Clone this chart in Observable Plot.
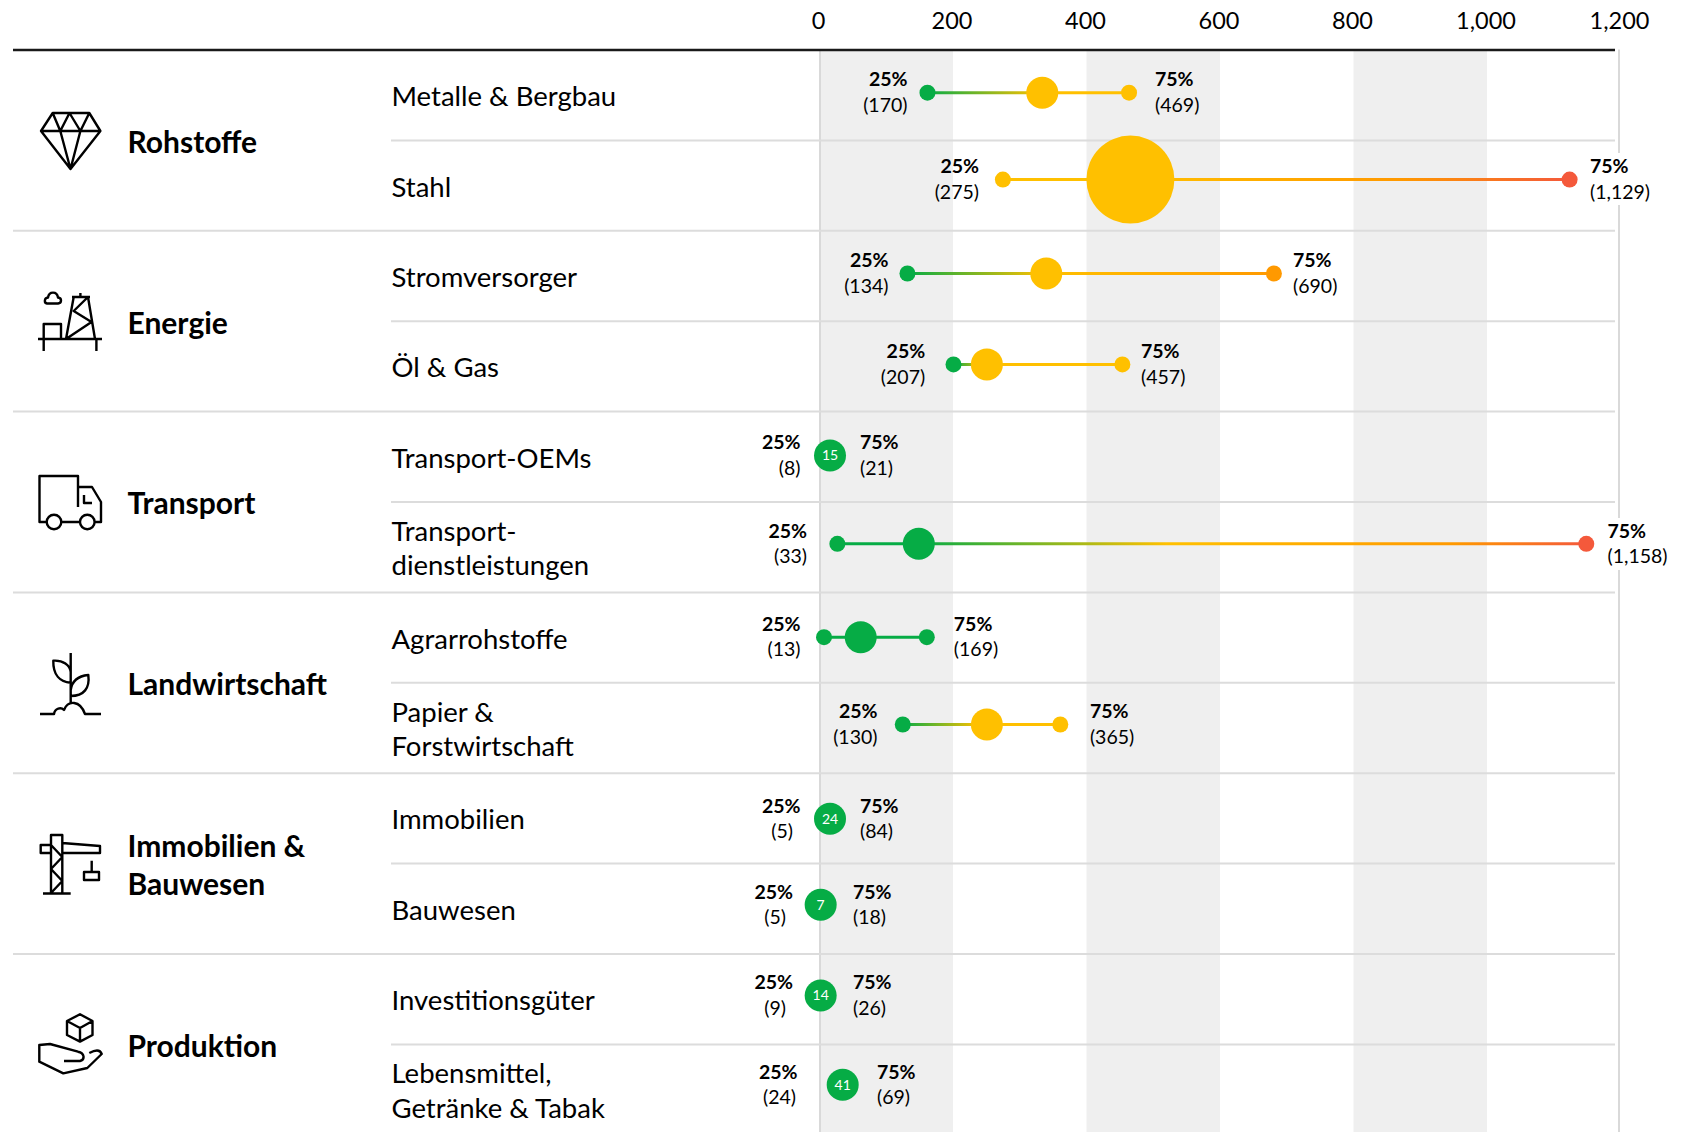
<!DOCTYPE html>
<html>
<head>
<meta charset="utf-8">
<script src="https://cdn.jsdelivr.net/npm/d3@7"></script>
<script src="https://cdn.jsdelivr.net/npm/@observablehq/plot@0.6"></script>
<style>
html,body{margin:0;padding:0;background:#fff}
svg{display:block}
</style>
</head>
<body>
<div id="chart"></div>
<script>
// ---- data ----
const groups = ["Rohstoffe", "Energie", "Transport", "Landwirtschaft", "Immobilien &\nBauwesen", "Produktion"];
const sectors = ["Metalle & Bergbau", "Stahl", "Stromversorger", "Öl & Gas", "Transport-OEMs",
  "Transport-\ndienstleistungen", "Agrarrohstoffe", "Papier &\nForstwirtschaft", "Immobilien", "Bauwesen",
  "Investitionsgüter", "Lebensmittel,\nGetränke & Tabak"];
const q25Text = ["170", "275", "134", "207", "8", "33", "13", "130", "5", "5", "9", "24"];
const q75Text = ["469", "1,129", "690", "457", "21", "1,158", "169", "365", "84", "18", "26", "69"];
const medianText = [null, null, null, null, "15", null, null, null, "24", "7", "14", "41"];
// values as plotted on the axis
const lowValue = [161, 274, 131, 200, null, 26, 6, 124, null, null, null, null];
const midValue = [333, 465, 339, 250, 15, 148, 61, 250, 15, 1, 1, 34];
const highValue = [463, 1123, 680, 453, null, 1148, 160, 360, null, null, null, null];
const axisTicks = [0, 200, 400, 600, 800, 1000, 1200];
const bands = [[0, 200], [400, 600], [800, 1000]];
const green = "#06AC45", yellow = "#FFC000", orange = "#FF9900", red = "#F4593B";
const lowColor = [green, yellow, green, green, null, green, green, green, null, null, null, null];
const highColor = [yellow, red, orange, yellow, null, red, green, yellow, null, null, null, null];
const midColor = [yellow, yellow, yellow, yellow, green, green, green, yellow, green, green, green, green];
const lineStops = [
  [[161, green], [333, yellow], [463, yellow]],
  [[274, yellow], [465, yellow], [870, orange], [1123, red]],
  [[131, green], [339, yellow], [680, orange]],
  [[200, green], [250, yellow], [453, yellow]],
  null,
  [[26, green], [148, green], [520, yellow], [950, orange], [1148, red]],
  [[6, green], [160, green]],
  [[124, green], [240, yellow], [360, yellow]],
  null, null, null, null
];

// ---- layout ----
const W = 1688, H = 1132, TOP = 49.5, ROW = 90.4, X0 = 819.5, X1200 = 1620.5;
const pxPerUnit = (X1200 - X0) / 1200;
const toValue = px => (px - X0) / pxPerUnit;
const toRow = px => (px - TOP) / ROW;
const rowNudge = [-2.5, -6, -2.5, -2, -1.3, -3.4, -0.4, -3.5, 0.4, -4, -3.7, -4.8];
const labelLeftPx = [907, 978.5, 888, 924.7, 800, 806.5, 800, 877, 800, 792.5, 792.5, 797];
const parenShift = [0, 0, 0, 0, 0, 0, 0, 0, -7.5, -7, -7, -1.5];
const labelRightPx = [1154.5, 1589.5, 1292.5, 1140.5, 859.5, 1607, 953.3, 1089.4, 859.5, 852.5, 852.5, 876.5];
const font = "Lato";

const rows = sectors.map((name, i) => ({
  i, name, q25: `(${q25Text[i]})`, q75: `(${q75Text[i]})`, median: medianText[i],
  low: lowValue[i], mid: midValue[i], high: highValue[i],
  lowC: lowColor[i], midC: midColor[i], highC: highColor[i],
  yText: i + 0.5,
  yDot: i + 0.5 + rowNudge[i] / ROW,
  leftEdge: toValue(labelLeftPx[i]),
  parenEdge: toValue(labelLeftPx[i] + parenShift[i]),
  rightEdge: toValue(labelRightPx[i]),
  big: midValue[i] === 465
}));
const withRange = rows.filter(d => d.low !== null);
const groupRows = groups.map((name, i) => ({name, y: 2 * i + 1}));
const axisBreaks = [[153, 205], [518, 570]];

const gradientDefs = (index, {x}) => {
  const defs = d3.create("svg:defs");
  lineStops.forEach((stops, i) => {
    if (!stops) return;
    const a = stops[0][0], b = stops[stops.length - 1][0];
    const g = defs.append("linearGradient").attr("id", `grad${i}`)
      .attr("gradientUnits", "userSpaceOnUse")
      .attr("x1", x(a)).attr("x2", x(b)).attr("y1", 0).attr("y2", 0);
    stops.forEach(([v, c]) => g.append("stop").attr("offset", (v - a) / (b - a)).attr("stop-color", c));
  });
  return defs.node();
};

const iconPaths = [
  // diamond
  "M52.7,113H89.3L100.4,131L70.5,169L41,131Z M41,131H100.4 M52.7,113L60.3,131L70.5,169L80.4,131L89.3,113 M60.3,131L69.5,113L80.4,131",
  // oil rig
  "M38,339H102 M43.7,339V351 M96.4,339V351 M43.7,339V324H61V339 M66,339L73.7,297H88L95,339 M72,297H90 M80.4,293V297 M88,297L73.7,311L91.5,322L66,339 M47,303.5H58C62,303 62,298 58,297.5C57,291 49,291 48,297.5C44,298 44,303 47,303.5Z",
  // truck
  "M46.5,522H39.5V476H78V507 M78,487H92L101,502V522H94.7 M61.3,522H80 M84,495V503H92 M61.3,522A7.3,7.3 0 1 1 46.7,522A7.3,7.3 0 1 1 61.3,522Z M94.6,522A7.3,7.3 0 1 1 80,522A7.3,7.3 0 1 1 94.6,522Z",
  // plant
  "M70.7,653V703 M70.7,682.7C60,682 53,675 53.3,660.7C63,660 70,665 70.7,672 M70.7,696C84,696 90,688 88.3,675C78,676 72,681 70.7,690 M40,714H54C55,708 61,707 64,710C68,700 80,700 85,714H101",
  // crane
  "M51,893V835H62.3V893 M43,893.5H70.7 M51,845H40.7V853H51 M62.3,843L100,846V853H62.3 M51,845L62.3,857L51,869L62.3,881L51,893 M91.7,860.7V872 M84,872H99V880H84Z",
  // box on a hand
  "M80,1014.3L92.5,1021V1035L80,1041.6L67,1035V1021Z M67,1021L80,1028L92.5,1021 M80,1028V1041.6 M64,1061H80C85,1060 85,1053 78,1051.7L50,1044L39.3,1045V1061.7L63.3,1073.3L87.3,1068L101.7,1054C100,1049 95,1050 89.3,1053"
];
const icons = () => {
  const g = d3.create("svg:g").attr("fill", "none").attr("stroke", "#000")
    .attr("stroke-width", 2.4).attr("stroke-linejoin", "round");
  iconPaths.forEach(d => g.append("path").attr("d", d));
  return g.node();
};

const valueLabel = {fontFamily: font, fontSize: 19.5, fill: "#000"};
const chart = Plot.plot({
  width: W, height: H,
  marginTop: TOP, marginBottom: 0, marginLeft: 13, marginRight: W - 1615,
  style: {fontFamily: font, background: "#fff", color: "#000"},
  x: {domain: [0, 1200], range: [X0, X1200]},
  y: {domain: [0, 12], range: [TOP, TOP + 12 * ROW], axis: null},
  color: {type: "identity"},
  r: {type: "identity"},
  marks: [
    gradientDefs,
    Plot.rectX(bands, {x1: d => d[0], x2: d => d[1], fill: "#EFEFEF"}),
    Plot.ruleX([0, 1197], {stroke: "#D9D9D9", strokeWidth: 2}),
    Plot.ruleX(axisBreaks, {x: () => 1197, y1: d => toRow(d[0]), y2: d => toRow(d[1]), stroke: "#fff", strokeWidth: 3}),
    Plot.ruleY([2, 4, 6, 8, 10], {stroke: "#DCDCDC", strokeWidth: 2}),
    Plot.ruleY([1, 3, 5, 7, 9, 11], {x1: toValue(391), x2: toValue(1615), stroke: "#DCDCDC", strokeWidth: 2}),
    Plot.ruleY([0], {stroke: "#1A1A1A", strokeWidth: 2.5}),
    Plot.axisX(axisTicks, {anchor: "top", label: null, tickSize: 0, tickPadding: 21, dx: -1.5, tickFormat: d3.format(","), fontSize: 23.5, fontFamily: font, fill: "#000"}),
    Plot.ruleY(withRange, {y: "yDot", x1: "low", x2: "high", stroke: d => `url(#grad${d.i})`, strokeWidth: 3}),
    Plot.dot(withRange, {x: "low", y: "yDot", r: 8, fill: "lowC"}),
    Plot.dot(withRange, {x: "high", y: "yDot", r: 8, fill: "highC"}),
    Plot.dot(rows, {x: "mid", y: "yDot", r: d => d.big ? 44 : 16, fill: "midC"}),
    Plot.text(rows.filter(d => d.median), {x: "mid", y: "yDot", text: "median", fill: "#fff", fontSize: 14, fontFamily: font, dy: 0.5}),
    Plot.text(rows, {y: "yText", text: "name", frameAnchor: "left", textAnchor: "start", dx: 378, dy: 0, lineHeight: 1.25, fontSize: 27.5, fill: "#000"}),
    Plot.text(groupRows, {y: "y", text: "name", frameAnchor: "left", textAnchor: "start", dx: 114, dy: 0.5, lineHeight: 1.24, fontSize: 30, fontWeight: 700, fill: "#000"}),
    Plot.text(rows, {x: "leftEdge", y: "yDot", text: () => "25%", textAnchor: "end", dy: -12.5, fontWeight: 700, ...valueLabel}),
    Plot.text(rows, {x: "parenEdge", y: "yDot", text: "q25", textAnchor: "end", dy: 13, ...valueLabel}),
    Plot.text(rows, {x: "rightEdge", y: "yDot", text: () => "75%", textAnchor: "start", dy: -12.5, fontWeight: 700, ...valueLabel}),
    Plot.text(rows, {x: "rightEdge", y: "yDot", text: "q75", textAnchor: "start", dy: 13, ...valueLabel}),
    icons
  ]
});
document.getElementById("chart").append(chart);
</script>
</body>
</html>
